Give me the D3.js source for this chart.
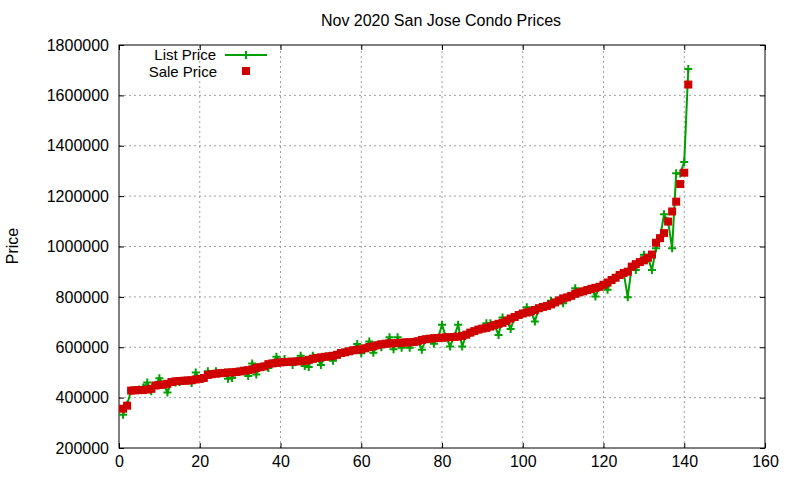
<!DOCTYPE html>
<html lang="en">
<head>
<meta charset="utf-8">
<title>Nov 2020 San Jose Condo Prices</title>
<script src="https://d3js.org/d3.v7.min.js"></script>
<style>
  body { margin: 0; background: #fff; }
  text { font-family: "Liberation Sans", Arial, sans-serif; font-size: 16px; fill: #000; }
  .grid line { stroke: #a0a0a0; stroke-width: 1; stroke-dasharray: 2,3; }
  .legend text { font-size: 15px; }
</style>
</head>
<body>
<script>
var title = "Nov 2020 San Jose Condo Prices";
var yLabel = "Price";
var seriesNames = ["List Price", "Sale Price"];

var xTicks = [0, 20, 40, 60, 80, 100, 120, 140, 160];
var yTicks = [200000, 400000, 600000, 800000, 1000000, 1200000, 1400000, 1600000, 1800000];

// sale prices, sorted, one per listing (index 1..141)
var salePrice = [
  356000, 368000, 428000, 429000, 430000, 430000, 432000, 435000, 448000, 450000,
  452000, 455000, 462000, 465000, 466000, 467000, 468000, 469000, 472000, 474000,
  478000, 490000, 493000, 495000, 497000, 498000, 500000, 500000, 502000, 504000,
  507000, 509000, 512000, 518000, 521000, 524000, 533000, 536000, 538000, 540000,
  541000, 542000, 543000, 544000, 545000, 546000, 550000, 554000, 557000, 560000,
  562000, 564000, 566000, 570000, 577000, 580000, 584000, 588000, 590000, 592000,
  596000, 601000, 604000, 608000, 612000, 614000, 615000, 616000, 617000, 618000,
  619000, 620000, 621000, 624000, 629000, 632000, 634000, 636000, 637000, 638000,
  639000, 640000, 641000, 642000, 645000, 650000, 658000, 664000, 670000, 674000,
  677000, 682000, 688000, 693000, 697000, 705000, 714000, 720000, 728000, 734000,
  738000, 742000, 748000, 755000, 760000, 764000, 770000, 778000, 786000, 794000,
  798000, 804000, 812000, 818000, 822000, 827000, 832000, 836000, 840000, 848000,
  857000, 867000, 876000, 887000, 895000, 900000, 920000, 930000, 938000, 945000,
  955000, 968000, 1015000, 1033000, 1053000, 1099000, 1139000, 1178000, 1248000, 1293000,
  1643000
];

// list prices for the same listings
var listPrice = [
  332000, 372000, 428000, 430000, 432000, 440000, 460000, 425000, 450000, 477000,
  452000, 420000, 462000, 460000, 462000, 467000, 468000, 458000, 500000, 474000,
  478000, 505000, 493000, 505000, 497000, 498000, 475000, 478000, 502000, 504000,
  507000, 486000, 535000, 492000, 521000, 524000, 518000, 536000, 562000, 540000,
  553000, 542000, 530000, 544000, 566000, 526000, 522000, 566000, 557000, 530000,
  562000, 564000, 546000, 570000, 577000, 580000, 584000, 588000, 613000, 576000,
  596000, 623000, 578000, 608000, 600000, 614000, 640000, 592000, 640000, 598000,
  619000, 598000, 621000, 624000, 590000, 632000, 634000, 614000, 637000, 689000,
  640000, 603000, 642000, 689000, 603000, 650000, 658000, 664000, 670000, 674000,
  695000, 695000, 688000, 649000, 718000, 705000, 672000, 720000, 728000, 734000,
  759000, 742000, 702000, 755000, 760000, 764000, 785000, 778000, 786000, 775000,
  798000, 804000, 834000, 818000, 822000, 827000, 832000, 801000, 840000, 848000,
  828000, 867000, 876000, 887000, 895000, 799000, 920000, 907000, 938000, 967000,
  955000, 907000, 993000, 1033000, 1128000, 1099000, 993000, 1291000, 1290000, 1335000,
  1705000
];

var width = 800, height = 480;
var margin = {left: 119, right: 35, top: 45, bottom: 32};

var svg = d3.select("body").append("svg")
  .attr("width", width)
  .attr("height", height);

var x = d3.scaleLinear().domain([0, 160]).range([margin.left, width - margin.right]);
var y = d3.scaleLinear().domain([200000, 1800000]).range([height - margin.bottom, margin.top]);

var green = "#00a000", red = "#d00000";

// grid
var grid = svg.append("g").attr("class", "grid");
grid.selectAll("line.gx")
  .data(xTicks.slice(1, -1))
  .enter().append("line")
  .attr("x1", d => x(d)).attr("x2", d => x(d))
  .attr("y1", y.range()[0]).attr("y2", y.range()[1]);
grid.selectAll("line.gy")
  .data(yTicks.slice(1, -1))
  .enter().append("line")
  .attr("class", "gy")
  .attr("x1", x.range()[0]).attr("x2", x.range()[1])
  .attr("y1", d => y(d)).attr("y2", d => y(d));

// axes: ticks pointing inward on all four sides
var tk = 5;
svg.append("g")
  .attr("transform", "translate(0," + y.range()[0] + ")")
  .call(d3.axisBottom(x).tickValues(xTicks).tickSizeInner(-tk).tickSizeOuter(0).tickPadding(8))
  .call(g => g.select(".domain").remove());
svg.append("g")
  .attr("transform", "translate(0," + y.range()[1] + ")")
  .call(d3.axisTop(x).tickValues(xTicks).tickSizeInner(-tk).tickSizeOuter(0).tickFormat(""))
  .call(g => g.select(".domain").remove());
svg.append("g")
  .attr("transform", "translate(" + x.range()[0] + ",0)")
  .call(d3.axisLeft(y).tickValues(yTicks).tickSizeInner(-tk).tickSizeOuter(0).tickPadding(10).tickFormat(d3.format("d")))
  .call(g => g.select(".domain").remove());
svg.append("g")
  .attr("transform", "translate(" + x.range()[1] + ",0)")
  .call(d3.axisRight(y).tickValues(yTicks).tickSizeInner(-tk).tickSizeOuter(0).tickFormat(""))
  .call(g => g.select(".domain").remove());

svg.selectAll(".tick text").style("font-size", "16px").style("font-family", "'Liberation Sans', Arial, sans-serif");
svg.selectAll(".tick line").attr("stroke", "#000");

svg.append("rect")
  .attr("x", x.range()[0]).attr("y", y.range()[1])
  .attr("width", x.range()[1] - x.range()[0])
  .attr("height", y.range()[0] - y.range()[1])
  .attr("fill", "none").attr("stroke", "#000").attr("stroke-width", 1);

// title and y label
svg.append("text")
  .attr("x", 441).attr("y", 26)
  .attr("text-anchor", "middle")
  .text(title);
svg.append("text")
  .attr("transform", "translate(18,246) rotate(-90)")
  .attr("text-anchor", "middle")
  .text(yLabel);

// list price line with plus marks
var listPts = listPrice.map((v, i) => [i + 1, v]);
var salePts = salePrice.map((v, i) => [i + 1, v]);

svg.append("path")
  .datum(listPts)
  .attr("d", d3.line().x(d => x(d[0])).y(d => y(d[1])))
  .attr("fill", "none")
  .attr("stroke", green)
  .attr("stroke-width", 2);

function plus(g, cx, cy, s) {
  g.append("path")
    .attr("d", "M" + (cx - s) + "," + cy + "H" + (cx + s) + "M" + cx + "," + (cy - s) + "V" + (cy + s))
    .attr("stroke", green).attr("stroke-width", 2).attr("fill", "none");
}
var marks = svg.append("g");
listPts.forEach(d => plus(marks, x(d[0]), y(d[1]), 4));

// sale price squares
svg.append("g").selectAll("rect")
  .data(salePts)
  .enter().append("rect")
  .attr("x", d => x(d[0]) - 4)
  .attr("y", d => y(d[1]) - 4)
  .attr("width", 8).attr("height", 8)
  .attr("fill", red);

// legend
var lg = svg.append("g").attr("class", "legend");
lg.append("text").attr("x", 216).attr("y", 60).attr("text-anchor", "end").text(seriesNames[0]);
lg.append("text").attr("x", 217).attr("y", 77).attr("text-anchor", "end").text(seriesNames[1]);
lg.append("line").attr("x1", 225).attr("x2", 267).attr("y1", 55).attr("y2", 55)
  .attr("stroke", green).attr("stroke-width", 2);
plus(lg, 246, 55, 4);
lg.append("rect").attr("x", 242).attr("y", 67).attr("width", 8).attr("height", 8).attr("fill", red);
</script>
</body>
</html>
